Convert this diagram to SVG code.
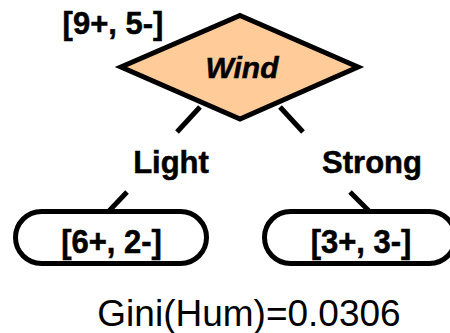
<svg xmlns="http://www.w3.org/2000/svg" width="450" height="333" viewBox="0 0 450 333">
  <style>
    .bold { font-family: "Liberation Sans", Arial, sans-serif; font-weight: bold; fill: #000; text-anchor: middle; stroke: #000; stroke-width: 0.5; }
    .shape { stroke: #000; stroke-width: 5; }
    .edge { stroke: #000; stroke-width: 5; fill: none; }
  </style>
  <rect width="450" height="333" fill="#fff"/>

  <!-- connectors (split around the branch labels) -->
  <g id="connectors">
    <line class="edge" x1="200" y1="107" x2="177" y2="132"/>
    <line class="edge" x1="127" y1="192" x2="109" y2="211"/>
    <line class="edge" x1="280" y1="107" x2="303" y2="132"/>
    <line class="edge" x1="350" y1="192" x2="369" y2="211"/>
    <text class="bold" x="171" y="173" font-size="31">Light</text>
    <text class="bold" x="372" y="173" font-size="31">Strong</text>
  </g>

  <!-- root decision node -->
  <g id="node-wind">
    <polygon class="shape" fill="#FFCC99" stroke-linejoin="miter" points="240,15.5 358,67 240,119 121,67"/>
    <text class="bold" x="242" y="78" font-size="30" font-style="italic">Wind</text>
    <text class="bold" x="113" y="34" font-size="31">[9+, 5-]</text>
  </g>

  <!-- leaves; counts are drawn slightly taller than wide -->
  <g id="leaf-light">
    <rect class="shape" fill="#fff" x="15.5" y="211.5" width="191" height="52" rx="26" ry="26"/>
    <text class="bold" transform="translate(111.5,253) scale(1,1.1)" font-size="31">[6+, 2-]</text>
  </g>
  <g id="leaf-strong">
    <rect class="shape" fill="#fff" x="264.5" y="211.5" width="191" height="52" rx="26" ry="26"/>
    <text class="bold" transform="translate(361,253) scale(1,1.1)" font-size="31">[3+, 3-]</text>
  </g>

  <text x="249" y="326" font-family="'Liberation Sans', Arial, sans-serif" font-size="37" text-anchor="middle" fill="#000">Gini(Hum)=0.0306</text>
</svg>
